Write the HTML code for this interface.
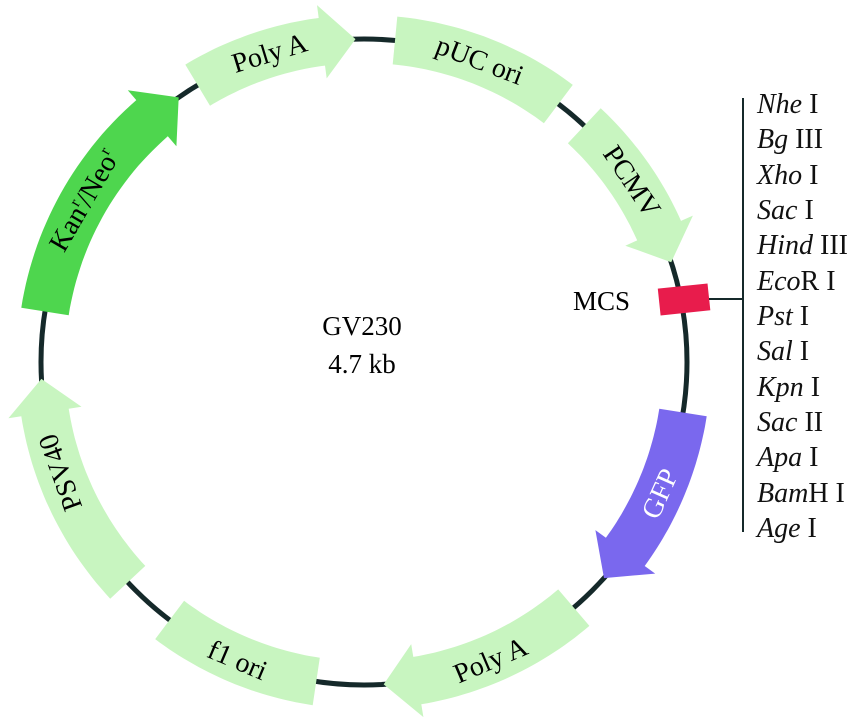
<!DOCTYPE html>
<html><head><meta charset="utf-8"><style>
html,body{margin:0;padding:0;background:#fff;}
svg{display:block;}
text{font-family:"Liberation Serif",serif;}
</style></head><body>
<svg id="s" width="865" height="723" viewBox="0 0 865 723" xmlns="http://www.w3.org/2000/svg">
<circle cx="364" cy="362" r="323" fill="none" stroke="#15292a" stroke-width="5"/>
<g id="shapes"></g>
<rect x="659" y="286" width="50" height="27" fill="#e81c4c" transform="rotate(-6 684 299)"/>
<line x1="709" y1="299" x2="743" y2="299" stroke="#15292a" stroke-width="2"/>
<line x1="743" y1="98" x2="743" y2="532" stroke="#15292a" stroke-width="2"/>
<text x="573" y="310" font-size="27">MCS</text>
<g font-size="27" text-anchor="middle">
<text x="362" y="335">GV230</text>
<text x="362" y="373">4.7 kb</text>
</g>
<g font-size="28" text-anchor="middle" fill="#000">
<text x="364" y="48" transform="rotate(343 364 362)">Poly A</text>
<text x="364" y="48" transform="rotate(21 364 362)">pUC ori</text>
<text x="364" y="48" transform="rotate(56 364 362)">PCMV</text>
<text x="364" y="48" transform="rotate(250 364 362)">PSV40</text>
<text x="364" y="48" transform="rotate(300 364 362)">Kan<tspan font-size="16" dy="-11">r</tspan><tspan dy="11">/Neo</tspan><tspan font-size="16" dy="-11">r</tspan></text>
<text x="364" y="695" fill="#fff" transform="rotate(-66 364 362)">GFP</text>
<text x="364" y="695" transform="rotate(-23 364 362)">Poly A</text>
<text x="364" y="695" transform="rotate(23 364 362)">f1 ori</text>
</g>
<g font-size="28" fill="#111">
<text x="757" y="113"><tspan font-style="italic">Nhe</tspan> I</text>
<text x="757" y="148"><tspan font-style="italic">Bg</tspan> III</text>
<text x="757" y="184"><tspan font-style="italic">Xho</tspan> I</text>
<text x="757" y="219"><tspan font-style="italic">Sac</tspan> I</text>
<text x="757" y="254"><tspan font-style="italic">Hind</tspan> III</text>
<text x="757" y="290"><tspan font-style="italic">Eco</tspan>R I</text>
<text x="757" y="325"><tspan font-style="italic">Pst</tspan> I</text>
<text x="757" y="360"><tspan font-style="italic">Sal</tspan> I</text>
<text x="757" y="396"><tspan font-style="italic">Kpn</tspan> I</text>
<text x="757" y="431"><tspan font-style="italic">Sac</tspan>  II</text>
<text x="757" y="466"><tspan font-style="italic">Apa</tspan> I</text>
<text x="757" y="502"><tspan font-style="italic">Bam</tspan>H I</text>
<text x="757" y="537"><tspan font-style="italic">Age</tspan> I</text>
</g>
</svg>
<script>
(function(){
var cx=364,cy=362,r=323,hw=24,hh=37,hl=6;
function P(rad,a){var t=a*Math.PI/180;return (cx+rad*Math.sin(t)).toFixed(1)+","+(cy-rad*Math.cos(t)).toFixed(1);}
function band(a1,a2,arrow,col){
  var pts=[],e=arrow?a2-hl:a2,i,n=30;
  for(i=0;i<=n;i++)pts.push(P(r+hw,a1+(e-a1)*i/n));
  if(arrow){pts.push(P(r+hh,e));pts.push(P(r,a2));pts.push(P(r-hh,e));}
  for(i=n;i>=0;i--)pts.push(P(r-hw,a1+(e-a1)*i/n));
  var p=document.createElementNS("http://www.w3.org/2000/svg","polygon");
  p.setAttribute("points",pts.join(" "));p.setAttribute("fill",col);
  document.getElementById("shapes").appendChild(p);
}
var L="#c8f5c0";
band(329,358.5,1,L);
band(5.5,37,0,L);
band(43,72,1,L);
band(99,132,1,"#7a68ee");
band(139.5,176.5,1,L);
band(188.5,217,0,L);
band(227,267,1,L);
band(279,325,1,"#4ed64e");
})();
</script>
</body></html>
